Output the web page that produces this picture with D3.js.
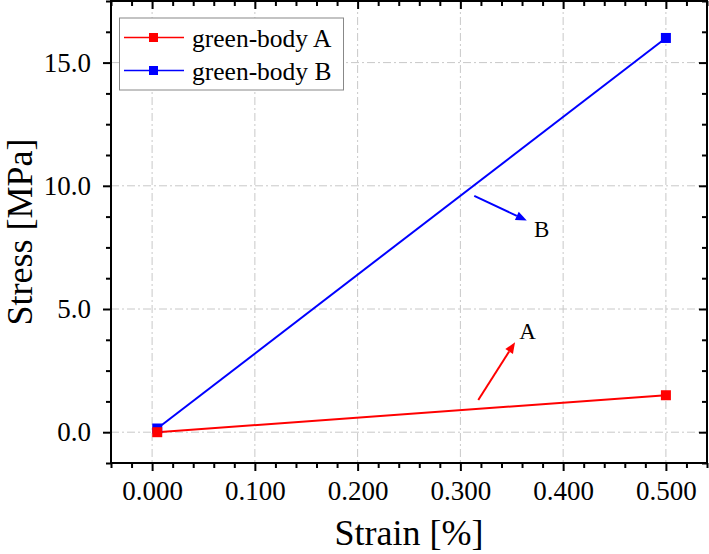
<!DOCTYPE html>
<html>
<head>
<meta charset="utf-8">
<script src="https://cdn.jsdelivr.net/npm/d3@7"></script>
<style>
  html, body { margin: 0; padding: 0; background: #fff; }
  svg { display: block; }
  text { font-family: "Liberation Serif", "Times New Roman", serif; fill: #000; }
</style>
</head>
<body>
<svg id="chart" width="709" height="554"></svg>
<script>
// ---- data ----
const seriesNames = ["green-body A", "green-body B"];
const seriesColors = ["#ff0000", "#0000ff"];
const strainA = [0.005, 0.5];
const stressA = [0.0, 1.5];
const strainB = [0.005, 0.5];
const stressB = [0.15, 16.0];
const xTicks = [0, 0.1, 0.2, 0.3, 0.4, 0.5];
const xTickLabels = ["0.000", "0.100", "0.200", "0.300", "0.400", "0.500"];
const yTicks = [0, 5, 10, 15];
const yTickLabels = ["0.0", "5.0", "10.0", "15.0"];
const xDomain = [-0.04, 0.54];
const yDomain = [-1.25, 17.5];
// annotations (data units): arrow start/end and label position
const annLabels = ["A", "B"];
const annColors = ["#ff0000", "#0000ff"];
const annFrom = [[0.3174, 1.31], [0.3135, 9.59]];
const annTo = [[0.3532, 3.65], [0.3646, 8.59]];
const annText = [[0.3655, 4.08], [0.379, 8.21]];

// ---- layout ----
const L = 111, R = 707, T = 1, B = 463;
const svg = d3.select("#chart");
const x = d3.scaleLinear().domain(xDomain).range([L, R]);
const y = d3.scaleLinear().domain(yDomain).range([B, T]);

// grid
const grid = svg.append("g").attr("stroke", "#c8c8c8").attr("stroke-width", 1)
  .attr("stroke-dasharray", "8,3,2,3").attr("fill", "none");
xTicks.forEach(v => grid.append("line").attr("x1", x(v)).attr("x2", x(v)).attr("y1", T).attr("y2", B));
yTicks.forEach(v => grid.append("line").attr("y1", y(v)).attr("y2", y(v)).attr("x1", L).attr("x2", R));

// axes
const xMinor = d3.range(-0.04, 0.5401, 0.02).filter(v => !xTicks.some(t => Math.abs(t - v) < 1e-6));
const yMinor = d3.range(-1.25, 17.501, 1.25).filter(v => !yTicks.some(t => Math.abs(t - v) < 1e-6));

function styleAxis(g) {
  g.select(".domain").remove();
  g.selectAll("line").attr("stroke", "#000").attr("stroke-width", 2);
}
const fontTick = 27;
// bottom
svg.append("g").attr("transform", `translate(0,${B})`)
  .call(d3.axisBottom(x).tickValues(xTicks).tickFormat((d, i) => xTickLabels[i]).tickSize(8).tickPadding(9))
  .call(styleAxis)
  .call(g => g.selectAll("text").attr("font-size", fontTick).attr("font-family", "Liberation Serif").attr("dy", "0.75em"));
svg.append("g").attr("transform", `translate(0,${B})`)
  .call(d3.axisBottom(x).tickValues(xMinor).tickFormat("").tickSize(5)).call(styleAxis);
// left
svg.append("g").attr("transform", `translate(${L},0)`)
  .call(d3.axisLeft(y).tickValues(yTicks).tickFormat((d, i) => yTickLabels[i]).tickSize(8).tickPadding(12))
  .call(styleAxis)
  .call(g => g.selectAll("text").attr("font-size", fontTick).attr("font-family", "Liberation Serif"));
svg.append("g").attr("transform", `translate(${L},0)`)
  .call(d3.axisLeft(y).tickValues(yMinor).tickFormat("").tickSize(5)).call(styleAxis);
// top (inward)
svg.append("g").attr("transform", `translate(0,${T})`)
  .call(d3.axisBottom(x).tickValues(xTicks).tickFormat("").tickSize(8)).call(styleAxis);
svg.append("g").attr("transform", `translate(0,${T})`)
  .call(d3.axisBottom(x).tickValues(xMinor).tickFormat("").tickSize(5)).call(styleAxis);
// right (inward)
svg.append("g").attr("transform", `translate(${R},0)`)
  .call(d3.axisLeft(y).tickValues(yTicks).tickFormat("").tickSize(8)).call(styleAxis);
svg.append("g").attr("transform", `translate(${R},0)`)
  .call(d3.axisLeft(y).tickValues(yMinor).tickFormat("").tickSize(5)).call(styleAxis);

// frame
svg.append("rect").attr("x", L).attr("y", T).attr("width", R - L).attr("height", B - T)
  .attr("fill", "none").attr("stroke", "#000").attr("stroke-width", 2);

// series
const series = [
  { xs: strainA, ys: stressA, color: seriesColors[0] },
  { xs: strainB, ys: stressB, color: seriesColors[1] }
];
const line = d3.line().x(d => x(d[0])).y(d => y(d[1]));
const ms = 10;
// draw B first then A so A's marker sits on top at origin
[1, 0].forEach(i => {
  const s = series[i];
  const pts = s.xs.map((v, j) => [v, s.ys[j]]);
  svg.append("path").attr("d", line(pts)).attr("fill", "none").attr("stroke", s.color).attr("stroke-width", 2);
});
[1, 0].forEach(i => {
  const s = series[i];
  const pts = s.xs.map((v, j) => [v, s.ys[j]]);
  svg.selectAll(null).data(pts).enter().append("rect")
    .attr("x", d => x(d[0]) - ms / 2).attr("y", d => y(d[1]) - ms / 2)
    .attr("width", ms).attr("height", ms).attr("fill", s.color);
});

// annotations
annLabels.forEach((lab, i) => {
  const x1 = x(annFrom[i][0]), y1 = y(annFrom[i][1]);
  const x2 = x(annTo[i][0]), y2 = y(annTo[i][1]);
  const ang = Math.atan2(y2 - y1, x2 - x1);
  const hl = 11, hw = 4.5;
  const bx = x2 - hl * Math.cos(ang), by = y2 - hl * Math.sin(ang);
  svg.append("line").attr("x1", x1).attr("y1", y1).attr("x2", bx).attr("y2", by)
    .attr("stroke", annColors[i]).attr("stroke-width", 2);
  const px = -Math.sin(ang), py = Math.cos(ang);
  svg.append("polygon")
    .attr("points", [[x2, y2], [bx + px * hw, by + py * hw], [bx - px * hw, by - py * hw]].map(p => p.join(",")).join(" "))
    .attr("fill", annColors[i]);
  svg.append("text").attr("x", x(annText[i][0])).attr("y", y(annText[i][1]))
    .attr("text-anchor", "middle").attr("dominant-baseline", "central")
    .attr("font-size", 23).text(lab);
});

// legend
const lg = svg.append("g");
lg.append("rect").attr("x", 119.5).attr("y", 18).attr("width", 224).attr("height", 72)
  .attr("fill", "#fff").attr("stroke", "#888").attr("stroke-width", 1);
seriesNames.forEach((name, i) => {
  const cy = 37.5 + i * 33;
  lg.append("line").attr("x1", 124).attr("x2", 184).attr("y1", cy).attr("y2", cy)
    .attr("stroke", seriesColors[i]).attr("stroke-width", 1.5);
  lg.append("rect").attr("x", 153.5 - 4.5).attr("y", cy - 4.5).attr("width", 9).attr("height", 9)
    .attr("fill", seriesColors[i]);
  lg.append("text").attr("x", 192).attr("y", cy + 9.5).attr("font-size", 25.5).text(name);
});

// axis titles
svg.append("text").attr("x", (L + R) / 2).attr("y", 545).attr("text-anchor", "middle")
  .attr("font-size", 36).text("Strain [%]");
svg.append("text").attr("transform", `translate(32,${(T + B) / 2}) rotate(-90)`)
  .attr("text-anchor", "middle").attr("font-size", 36).text("Stress [MPa]");
</script>
</body>
</html>
